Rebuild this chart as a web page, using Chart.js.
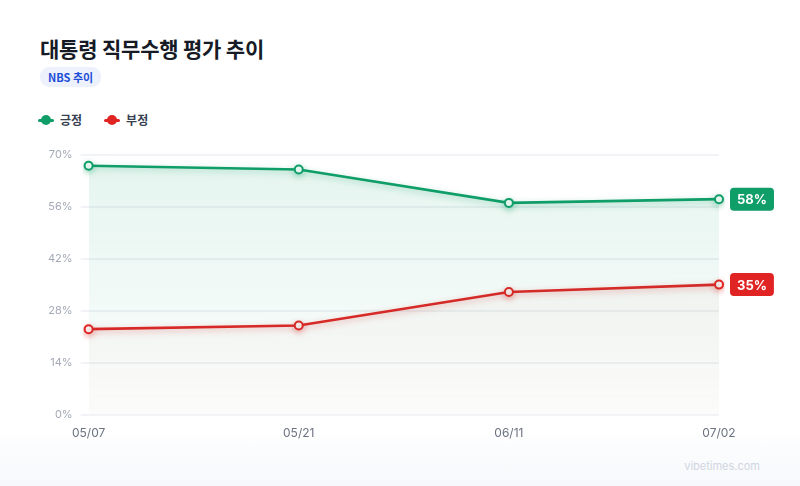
<!DOCTYPE html>
<html>
<head>
<meta charset="utf-8">
<script src="https://cdn.jsdelivr.net/npm/chart.js@4.4.1/dist/chart.umd.min.js"></script>
<style>
  html, body { margin: 0; padding: 0; }
  body {
    width: 800px; height: 486px; overflow: hidden; position: relative;
    background: linear-gradient(to bottom, #ffffff 0px, #ffffff 425px, #f6f8fb 486px);
    font-family: Inter, "Noto Sans CJK KR", sans-serif;
  }
  h1 {
    position: absolute; left: 40px; top: 33px; margin: 0;
    font-size: 21px; font-weight: 700; color: #161b26; letter-spacing: -0.2px;
    font-family: "Noto Sans CJK KR", Inter, sans-serif;
  }
  .badge {
    position: absolute; left: 40px; top: 67px; height: 20px; line-height: 20px;
    padding: 0 8px; border-radius: 9px; background: #edf1fb; color: #1d4ed8;
    font-size: 11px; font-weight: 700; font-family: "Noto Sans CJK KR", Inter, sans-serif;
  }
  #legend { position: absolute; left: 38px; top: 111px; display: flex; gap: 22px; }
  .item { display: flex; align-items: center; font-size: 12px; font-weight: 700; color: #374151;
    font-family: "Noto Sans CJK KR", Inter, sans-serif; }
  .mark { position: relative; width: 16px; height: 10px; margin-right: 6px; }
  .mark .ln { position: absolute; left: 0; right: 0; top: 4px; height: 3px; border-radius: 2px; }
  .mark .dt { position: absolute; left: 3px; top: 0; width: 10px; height: 10px; border-radius: 50%; }
  #wrap { position: absolute; left: 40px; top: 140px; width: 760px; height: 305px; }
  .wm { position: absolute; right: 40px; top: 459px; font-size: 11px; color: #cfd6e2; font-family: Inter, sans-serif; }
</style>
</head>
<body>
<h1>대통령 직무수행 평가 추이</h1>
<div class="badge">NBS 추이</div>
<div id="legend"></div>
<div id="wrap"><canvas id="myLineChart"></canvas></div>
<div class="wm">vibetimes.com</div>
<script>
var labels = ['05/07', '05/21', '06/11', '07/02'];
var positiveData = [67, 66, 57, 58];
var negativeData = [23, 24, 33, 35];
var seriesNames = ['긍정', '부정'];
var seriesColors = ['#0f9d68', '#e02424'];
var yTicks = [0, 14, 28, 42, 56, 70];

// legend
var legendEl = document.getElementById('legend');
seriesNames.forEach(function (name, i) {
    var d = document.createElement('div');
    d.className = 'item';
    d.innerHTML = '<span class="mark"><span class="ln" style="background:' + seriesColors[i] + '"></span>' +
        '<span class="dt" style="background:' + seriesColors[i] + '"></span></span>' + name;
    legendEl.appendChild(d);
});

function fillGradient(rgb, top, bottom) {
    return function (context) {
        var area = context.chart.chartArea;
        if (!area) return 'rgba(' + rgb + ',' + top + ')';
        var g = context.chart.ctx.createLinearGradient(0, area.top, 0, area.bottom);
        g.addColorStop(0, 'rgba(' + rgb + ',' + top + ')');
        g.addColorStop(1, 'rgba(' + rgb + ',' + bottom + ')');
        return g;
    };
}

// value badges at the end of each line
var endLabels = {
    id: 'endLabels',
    afterDatasetsDraw: function (chart) {
        var ctx = chart.ctx;
        chart.data.datasets.forEach(function (ds, i) {
            var meta = chart.getDatasetMeta(i);
            var pt = meta.data[meta.data.length - 1];
            var text = ds.data[ds.data.length - 1] + '%';
            ctx.save();
            ctx.font = '700 13px Inter, sans-serif';
            var w = ctx.measureText(text).width + 14;
            var h = 23;
            var x = pt.x + 11, y = pt.y - h / 2;
            ctx.fillStyle = ds.borderColor;
            ctx.beginPath();
            ctx.roundRect(x, y, w, h, 4);
            ctx.fill();
            ctx.fillStyle = '#ffffff';
            ctx.textAlign = 'left';
            ctx.textBaseline = 'middle';
            ctx.fillText(text, x + 7, pt.y + 1);
            ctx.restore();
        });
    }
};

var lineShadow = {
    id: 'lineShadow',
    beforeDatasetDraw: function (chart, args) {
        var ctx = chart.ctx;
        ctx.save();
        ctx.shadowColor = args.index === 0 ? 'rgba(15,157,104,0.35)' : 'rgba(224,36,36,0.35)';
        ctx.shadowBlur = 6;
        ctx.shadowOffsetY = 2;
    },
    afterDatasetDraw: function (chart) {
        chart.ctx.restore();
    }
};

var ctxL = document.getElementById('myLineChart').getContext('2d');
var myLineChart = new Chart(ctxL, {
    type: 'line',
    data: {
        labels: labels,
        datasets: [{
            label: seriesNames[0],
            data: positiveData,
            borderColor: seriesColors[0],
            backgroundColor: fillGradient('15,157,104', 0.11, 0.01),
            fill: 'origin',
            borderWidth: 2.6,
            pointRadius: 4,
            pointBorderWidth: 2,
            pointBackgroundColor: '#ffffff',
            pointBorderColor: seriesColors[0],
            tension: 0
        }, {
            label: seriesNames[1],
            data: negativeData,
            borderColor: seriesColors[1],
            backgroundColor: fillGradient('200,60,50', 0.06, 0.01),
            fill: 'origin',
            borderWidth: 2.6,
            pointRadius: 4,
            pointBorderWidth: 2,
            pointBackgroundColor: '#ffffff',
            pointBorderColor: seriesColors[1],
            tension: 0
        }]
    },
    options: {
        responsive: true,
        maintainAspectRatio: false,
        animation: false,
        layout: { padding: { top: 8, right: 81, left: 0, bottom: 0 } },
        plugins: {
            legend: { display: false },
            tooltip: { enabled: false }
        },
        scales: {
            x: {
                offset: false,
                grid: { display: false },
                border: { display: false },
                ticks: { color: '#6b7280', font: { family: 'Inter', size: 12 }, padding: 4 }
            },
            y: {
                min: 0,
                max: 70,
                afterBuildTicks: function (axis) {
                    axis.ticks = yTicks.map(function (v) { return { value: v }; });
                },
                grid: { color: '#f1f3f6', lineWidth: 2 },
                border: { display: false },
                ticks: {
                    color: '#a3a9b6',
                    font: { family: 'Inter', size: 11 },
                    padding: 8,
                    callback: function (v) { return v + '%'; }
                }
            }
        }
    },
    plugins: [lineShadow, endLabels]
});
</script>
</body>
</html>
